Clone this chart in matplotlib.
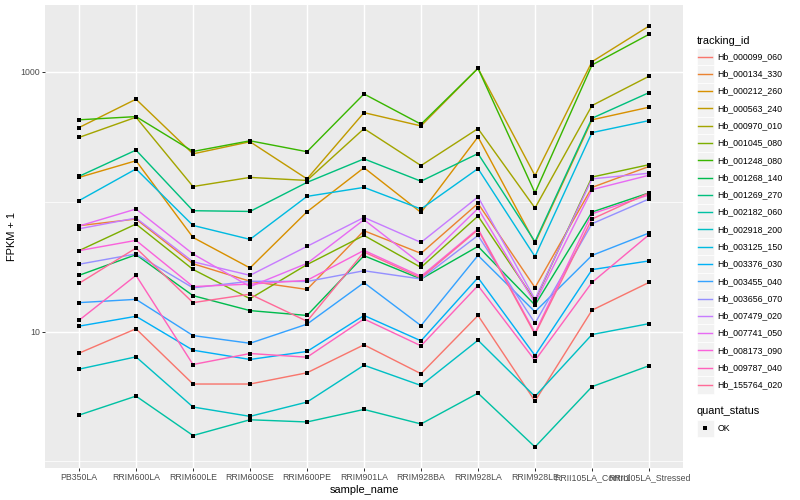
import math
import numpy as np
import matplotlib
matplotlib.use("Agg")
import matplotlib.pyplot as plt
from matplotlib.patches import Rectangle
from matplotlib.lines import Line2D

plt.rcParams['font.family'] = ['Liberation Sans', 'DejaVu Sans']

# ---------------- data ----------------
samples = ["PB350LA", "RRIM600LA", "RRIM600LE", "RRIM600SE", "RRIM600PE",
           "RRIM901LA", "RRIM928BA", "RRIM928LA", "RRIM928LE",
           "RRII105LA_Control", "RRII105LA_Stressed"]

tracking_ids = ["Hb_000099_060", "Hb_000134_330", "Hb_000212_260", "Hb_000563_240",
                "Hb_000970_010", "Hb_001045_080", "Hb_001248_080", "Hb_001268_140",
                "Hb_001269_270", "Hb_002182_060", "Hb_002918_200", "Hb_003125_150",
                "Hb_003376_030", "Hb_003455_040", "Hb_003656_070", "Hb_007479_020",
                "Hb_007741_050", "Hb_008173_090", "Hb_009787_040", "Hb_155764_020"]

# FPKM + 1 values, one list per gene, in sample order
hb_000099_060 = [6.81, 10.5, 3.94, 3.94, 4.81, 7.90, 4.73, 13.3, 2.91, 14.6, 23.9]
hb_000134_330 = [65.4, 73.6, 33.3, 24.4, 21.1, 59.8, 40.0, 97.0, 21.8, 129, 187]
hb_000212_260 = [154, 207, 53.1, 30.9, 83.7, 183, 82.7, 316, 48.1, 428, 535]
hb_000563_240 = [373, 617, 234, 290, 150, 486, 384, 1067, 159, 1200, 2259]
hb_000970_010 = [313, 448, 131, 154, 146, 366, 190, 366, 89.5, 551, 927]
hb_001045_080 = [42.0, 67.3, 30.1, 17.9, 32.8, 55.0, 31.2, 77.6, 17.3, 155, 193]
hb_001248_080 = [428, 453, 244, 295, 243, 677, 396, 1067, 117, 1132, 1950]
hb_001268_140 = [27.1, 39.1, 18.9, 14.5, 13.3, 38.4, 25.4, 45.3, 16.0, 83.3, 117]
hb_001269_270 = [157, 250, 85.3, 84.2, 141, 214, 144, 235, 49.2, 440, 693]
hb_002182_060 = [2.27, 3.18, 1.58, 2.09, 2.01, 2.51, 1.94, 3.35, 1.29, 3.76, 5.45]
hb_002918_200 = [5.13, 6.38, 2.62, 2.22, 2.86, 5.50, 3.84, 8.57, 3.16, 9.48, 11.5]
hb_003125_150 = [102, 179, 65.7, 51.3, 110, 129, 87.9, 180, 37.8, 341, 422]
hb_003376_030 = [11.0, 13.1, 7.18, 6.09, 7.02, 13.3, 8.48, 26.0, 6.53, 30.0, 35.0]
hb_003455_040 = [16.7, 17.7, 9.31, 8.12, 11.4, 23.8, 11.1, 38.6, 14.2, 38.6, 57.4]
hb_003656_070 = [33.0, 39.6, 21.7, 24.4, 24.3, 29.4, 25.4, 55.0, 11.6, 67.7, 105]
hb_007479_020 = [61.9, 74.9, 34.5, 27.1, 45.3, 75.7, 48.6, 109, 17.7, 150, 166]
hb_007741_050 = [65.0, 87.9, 39.6, 22.2, 33.5, 72.7, 33.2, 88.8, 16.6, 124, 160]
hb_008173_090 = [42.0, 50.4, 22.2, 23.2, 24.8, 42.2, 26.6, 61.9, 9.77, 80.8, 113]
hb_009787_040 = [12.2, 27.1, 5.57, 6.77, 6.34, 12.5, 7.76, 22.6, 5.98, 23.9, 55.7]
hb_155764_020 = [23.5, 44.0, 16.7, 19.4, 12.0, 41.0, 25.9, 60.9, 9.53, 73.6, 117]

series = [hb_000099_060, hb_000134_330, hb_000212_260, hb_000563_240, hb_000970_010,
          hb_001045_080, hb_001248_080, hb_001268_140, hb_001269_270, hb_002182_060,
          hb_002918_200, hb_003125_150, hb_003376_030, hb_003455_040, hb_003656_070,
          hb_007479_020, hb_007741_050, hb_008173_090, hb_009787_040, hb_155764_020]

quant_levels = ["OK"]


# ---------------- ggplot hue palette ----------------
def hcl_hex(h, c=100.0, l=65.0):
    hr = math.radians(h)
    u, v = c * math.cos(hr), c * math.sin(hr)
    Xn, Yn, Zn = 95.047, 100.0, 108.883
    un = 4 * Xn / (Xn + 15 * Yn + 3 * Zn)
    vn = 9 * Yn / (Xn + 15 * Yn + 3 * Zn)
    Y = Yn * ((l + 16) / 116) ** 3 if l > 8 else Yn * l / 903.3
    up = u / (13 * l) + un
    vp = v / (13 * l) + vn
    X = Y * 9 * up / (4 * vp)
    Z = Y * (12 - 3 * up - 20 * vp) / (4 * vp)
    x, y, z = X / 100, Y / 100, Z / 100
    r = 3.240479 * x - 1.537150 * y - 0.498535 * z
    g = -0.969256 * x + 1.875992 * y + 0.041556 * z
    b = 0.055648 * x - 0.204043 * y + 1.057311 * z

    def gam(t):
        t = 1.055 * t ** (1 / 2.4) - 0.055 if t > 0.0031308 else 12.92 * t
        return min(1.0, max(0.0, t))
    return (gam(r), gam(g), gam(b))


n = len(tracking_ids)
hues = np.linspace(15, 375, n + 1)[:n]
colors = [hcl_hex(h) for h in hues]

# ---------------- figure ----------------
W, H = 800, 500
fig = plt.figure(figsize=(8, 5), dpi=100)
PX = 0.72  # points per pixel at 100 dpi

pl, pr, pt, pb = 44.8, 683.2, 5.0, 468.0
ax = fig.add_axes([pl / W, 1 - pb / H, (pr - pl) / W, (pb - pt) / H])
ax.set_facecolor("#EBEBEB")
for s in ax.spines.values():
    s.set_visible(False)

xpos = np.arange(len(samples))
for vals, col in zip(series, colors):
    ax.plot(xpos, vals, color=col, lw=1.42 * PX, zorder=3, solid_capstyle="butt")
for vals in series:
    ax.plot(xpos, vals, ls="none", marker="s", ms=3.6 * PX, color="black",
            mec="black", mew=0, zorder=4)

ax.set_yscale("log")
ax.set_yticks([10, 1000])
ax.set_yticklabels(["10", "1000"])
ax.set_yticks([1, 100, 10000], minor=True)
ax.yaxis.set_minor_formatter(plt.NullFormatter())
ax.set_xticks(xpos)
ax.set_xticklabels(samples)

allv = np.log10(np.concatenate([np.asarray(s, float) for s in series]))
lo, hi = allv.min(), allv.max()
pad = 0.05 * (hi - lo)
ax.set_ylim(10 ** (lo - pad), 10 ** (hi + pad))
ax.set_xlim(-0.6, len(samples) - 1 + 0.6)

ax.grid(True, which="major", color="white", lw=1.42 * PX, zorder=1)
ax.grid(True, which="minor", axis="y", color="white", lw=0.71 * PX, zorder=1)
ax.set_axisbelow(True)

ax.tick_params(axis="both", which="major", length=2.75 * PX, width=1.0 * PX,
               color="#333333", labelcolor="#4D4D4D", labelsize=8.8 * PX,
               pad=2.2 * PX)
ax.tick_params(axis="y", which="minor", length=0)

ax.set_xlabel("sample_name", fontsize=11 * PX, color="black", labelpad=2.75 * PX)
ax.set_ylabel("FPKM + 1", fontsize=11 * PX, color="black", labelpad=2.75 * PX)

# ---------------- legend (pixel coordinates) ----------------
lax = fig.add_axes([0, 0, 1, 1], zorder=-1)
lax.set_xlim(0, W)
lax.set_ylim(H, 0)
lax.axis("off")

kx0, kw, kh = 696.5, 17.28, 17.28
lax.text(kx0, 40.5, "tracking_id", fontsize=11 * PX, va="center", ha="left")
y0 = 48.0
for i, (tid, col) in enumerate(zip(tracking_ids, colors)):
    yt = y0 + i * kh
    lax.add_patch(Rectangle((kx0, yt), kw, kh, facecolor="#F2F2F2",
                            edgecolor="white", lw=0.5))
    lax.add_line(Line2D([kx0 + 1.7, kx0 + kw - 1.7], [yt + kh / 2, yt + kh / 2],
                        color=col, lw=1.42 * PX))
    lax.text(kx0 + kw + 3.5, yt + kh / 2, tid, fontsize=8.8 * PX, va="center",
             ha="left")

lax.text(kx0, 411.5, "quant_status", fontsize=11 * PX, va="center", ha="left")
for i, q in enumerate(quant_levels):
    yt = 419.5 + i * kh
    lax.add_patch(Rectangle((kx0, yt), kw, kh, facecolor="#F2F2F2",
                            edgecolor="white", lw=0.5))
    lax.add_line(Line2D([kx0 + kw / 2], [yt + kh / 2], ls="none", marker="s",
                        ms=3.6 * PX, color="black", mew=0))
    lax.text(kx0 + kw + 3.5, yt + kh / 2, q, fontsize=8.8 * PX, va="center",
             ha="left")

fig.savefig("out.png", dpi=100, facecolor="white")
